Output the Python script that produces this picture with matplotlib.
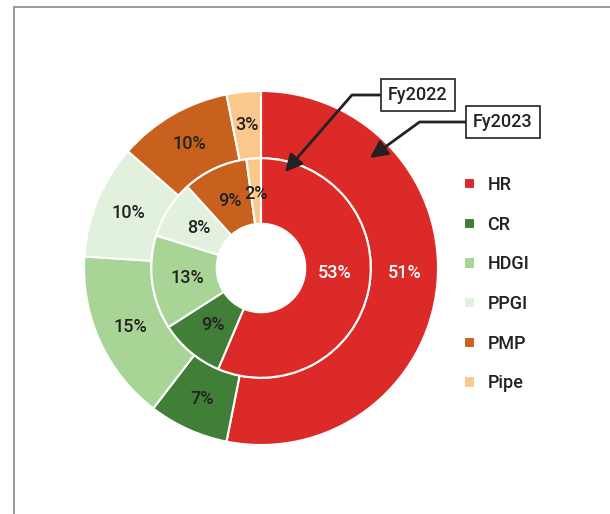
import numpy as np
import matplotlib.pyplot as plt
from matplotlib.patches import Rectangle

plt.rcParams['font.family'] = ['Roboto', 'DejaVu Sans']

categories = ['HR', 'CR', 'HDGI', 'PPGI', 'PMP', 'Pipe']
fy2023 = [51, 7, 15, 10, 10, 3]
fy2022 = [53, 9, 13, 8, 9, 2]
colors = ['#dc2a28', '#417e37', '#a8d596', '#e2f0de', '#c8611e', '#fbc88c']
white_text = ['HR']

W, H = 610, 514
fig = plt.figure(figsize=(W / 100, H / 100), dpi=100)
ax = fig.add_axes([84 / W, 69 / H, 354 / W, 354 / H])

wp = dict(edgecolor='white', linewidth=1.5)
outer, _ = ax.pie(fy2023, radius=1.0, colors=colors, startangle=90, counterclock=False,
                  wedgeprops=dict(width=0.38, **wp))
inner, _ = ax.pie(fy2022, radius=0.62, colors=colors, startangle=90, counterclock=False,
                  wedgeprops=dict(width=0.37, **wp))
ax.set_xlim(-1, 1)
ax.set_ylim(-1, 1)
ax.set_aspect('equal')

FS = 13
TXT = '#222222'


def put_labels(wedges, vals, r):
    for w, v, c in zip(wedges, vals, categories):
        mid = (w.theta1 + w.theta2) / 2
        if w.theta2 - w.theta1 > 180:
            # big slice: label sits nearer the horizontal, like the original
            mid = mid * 0.35
        a = np.deg2rad(mid)
        col = 'white' if c in white_text else TXT
        ax.text(r * np.cos(a), r * np.sin(a), f'{v}%', ha='center', va='center',
                fontsize=FS, color=col, fontweight='medium')


put_labels(outer, fy2023, 0.81)
put_labels(inner, fy2022, 0.42)

# legend
leg = ax.legend(outer, categories, loc='upper left', bbox_to_anchor=(464 / W, 1 - 176 / H),
                bbox_transform=fig.transFigure, frameon=False,
                handlelength=0.6, handleheight=0.6, handletextpad=0.7, labelspacing=1.2,
                borderpad=0, borderaxespad=0, labelcolor=TXT,
                prop=dict(size=FS, weight='medium'))

# callouts
box = dict(boxstyle='square,pad=0.38', fc='white', ec=TXT, lw=1.2)
arrow = dict(arrowstyle='-|>,head_length=0.8,head_width=0.4', color=TXT, lw=2,
             shrinkA=0, shrinkB=0)
ax.annotate('Fy2022', xy=(285, H - 172), xycoords='figure pixels',
            xytext=(418, H - 95), textcoords='figure pixels', ha='center', va='center',
            fontsize=FS, color=TXT, fontweight='medium', bbox=box,
            arrowprops=dict(connectionstyle='angle,angleA=0,angleB=49,rad=0', **arrow))
ax.annotate('Fy2023', xy=(370, H - 158), xycoords='figure pixels',
            xytext=(503, H - 122), textcoords='figure pixels', ha='center', va='center',
            fontsize=FS, color=TXT, fontweight='medium', bbox=box,
            arrowprops=dict(connectionstyle='angle,angleA=0,angleB=36,rad=0', **arrow))

# outer frame (cropped on right and bottom)
fig.add_artist(Rectangle((13.5 / W, -0.1), 1.2, 1 + 0.1 - 7.5 / H, transform=fig.transFigure,
                         fill=False, ec='#8a8a8a', lw=1.2))

fig.savefig('out.png', dpi=100)
